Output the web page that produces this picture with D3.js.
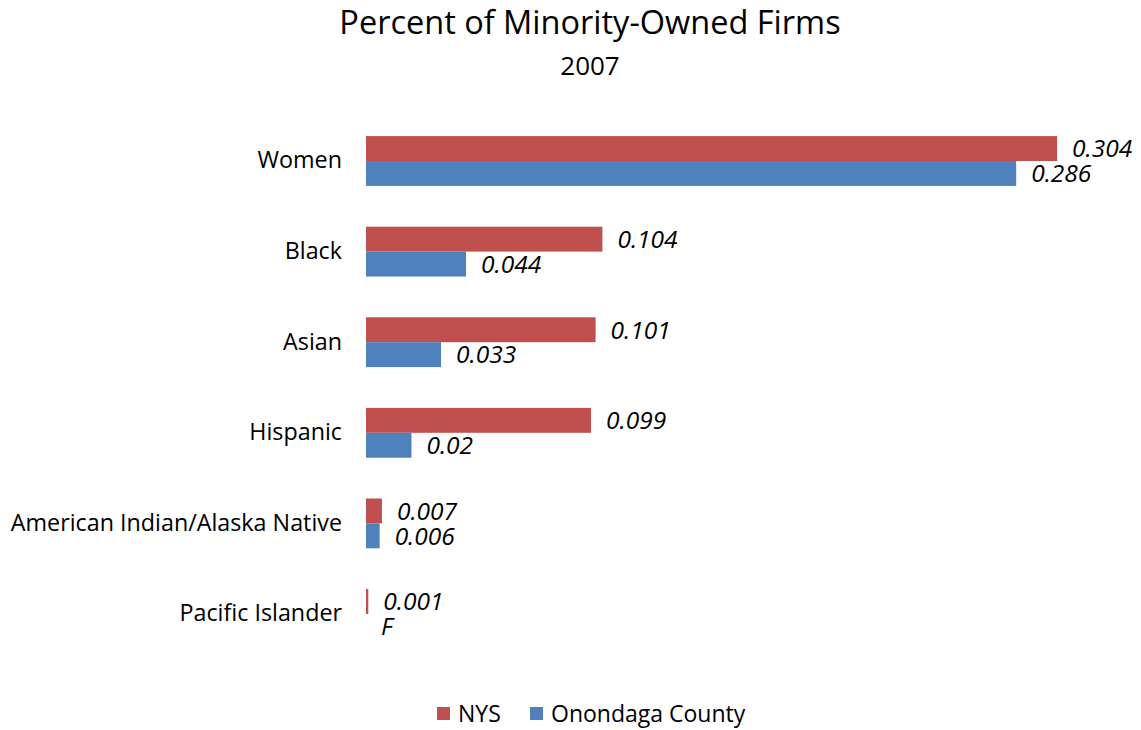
<!DOCTYPE html>
<html><head><meta charset="utf-8">
<script src="https://cdn.jsdelivr.net/npm/d3@7"></script>
<style>body{margin:0;background:#fff}svg{display:block}text{font-family:"Open Sans",sans-serif;fill:#000}</style>
</head><body><svg id="c" width="1141" height="730"></svg>
<script>
const categories = ["Women","Black","Asian","Hispanic","American Indian/Alaska Native","Pacific Islander"];
const seriesNames = ["NYS","Onondaga County"];
const nysValues = [0.304,0.104,0.101,0.099,0.007,0.001];
const onondagaValues = [0.286,0.044,0.033,0.02,0.006,null];
const onondagaLabels = ["0.286","0.044","0.033","0.02","0.006","F"];
const nysLabels = ["0.304","0.104","0.101","0.099","0.007","0.001"];
const colors = ["#C0504D","#4F81BD"];

const svg = d3.select("#c");
const x = d3.scaleLinear().domain([0,0.3]).range([366,1048]);
const y = d3.scaleBand().domain(categories).range([115.7,659.3]).paddingInner(0.45).paddingOuter(0.225);
const inner = d3.scaleBand().domain(seriesNames).range([0,y.bandwidth()]);

svg.append("text").attr("x",590).attr("y",34).attr("text-anchor","middle").style("font-size","32.5px").text("Percent of Minority-Owned Firms");
svg.append("text").attr("x",590).attr("y",75).attr("text-anchor","middle").style("font-size","26px").text("2007");

const yAxis = d3.axisLeft(y).tickSize(0).tickPadding(24);
const ag = svg.append("g").attr("transform","translate(366,0)").call(yAxis);
ag.select(".domain").remove();
ag.selectAll("text").style("font-size","23.3px").style("font-family","'Open Sans',sans-serif").attr("fill","#000");

const data = categories.map((c,i)=>({c, vals:[{s:seriesNames[0],v:nysValues[i],l:nysLabels[i]},{s:seriesNames[1],v:onondagaValues[i],l:onondagaLabels[i]}]}));
const g = svg.selectAll("g.cat").data(data).join("g").attr("class","cat").attr("transform",d=>`translate(0,${y(d.c)})`);
g.selectAll("rect").data(d=>d.vals.filter(v=>v.v!=null)).join("rect")
  .attr("x",x(0)).attr("y",d=>inner(d.s)).attr("height",inner.bandwidth())
  .attr("width",d=>x(d.v)-x(0)).attr("fill",d=>colors[seriesNames.indexOf(d.s)]);
g.selectAll("text.lbl").data(d=>d.vals).join("text").attr("class","lbl")
  .attr("x",d=>x(d.v||0)+15).attr("y",d=>inner(d.s)+inner.bandwidth()/2).attr("dy","0.36em")
  .style("font-size","24.5px").style("font-style","italic").text(d=>d.l);

const leg = svg.append("g");
const legX = [437,530];
seriesNames.forEach((s,i)=>{
  leg.append("rect").attr("x",legX[i]).attr("y",707).attr("width",13).attr("height",13).attr("fill",colors[i]);
  leg.append("text").attr("x",legX[i]+21).attr("y",714).attr("dy","0.36em").style("font-size","23px").text(s);
});
</script></body></html>
